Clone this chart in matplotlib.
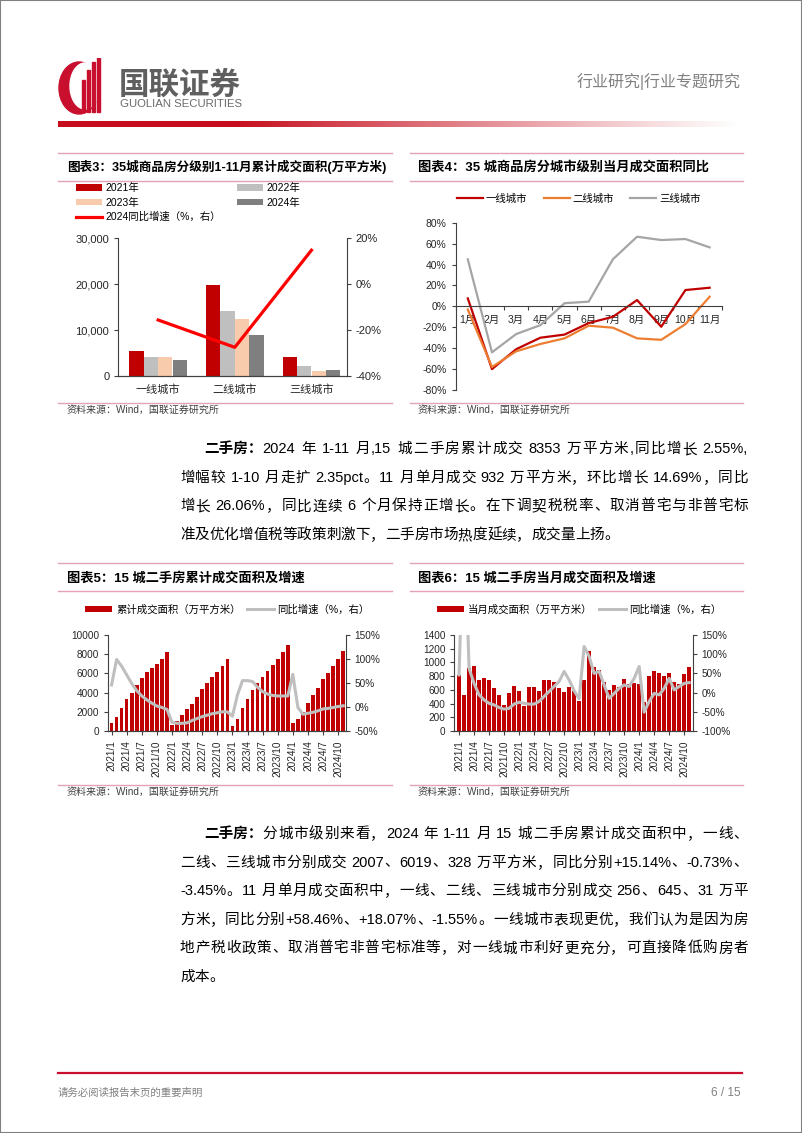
import re
import numpy as np
import matplotlib
matplotlib.use('Agg')
import matplotlib.pyplot as plt
from matplotlib.patches import Rectangle, Ellipse
from matplotlib.lines import Line2D
from matplotlib.ticker import FuncFormatter, MultipleLocator

plt.rcParams['font.family'] = ['Liberation Sans', 'Noto Sans CJK SC', 'DejaVu Sans']
plt.rcParams['axes.unicode_minus'] = False

W, H = 802, 1133

# ---- chart 3: 35 cities, cumulative Jan-Nov area by tier
tiers = ['一线城市', '二线城市', '三线城市']
years = ['2021年', '2022年', '2023年', '2024年']
area_2021 = [5400, 19900, 4200]
area_2022 = [4050, 14200, 2150]
area_2023 = [4200, 12400, 1100]
area_2024 = [3550, 9000, 1300]
yoy_2024 = [-15.6, -27.5, 14.8]

# ---- chart 4: monthly yoy by tier
months = ['1月', '2月', '3月', '4月', '5月', '6月', '7月', '8月', '9月', '10月', '11月']
tier1_yoy = [7.6, -60, -41, -30, -27, -16, -10, 6, -19.5, 15.6, 17.8]
tier2_yoy = [-3, -58, -43, -36, -30.6, -18.5, -20.4, -30.6, -32, -17, 9.2]
tier3_yoy = [45, -44, -26.5, -18, 3, 4.5, 45, 66.6, 63.4, 64.4, 56.4]

# ---- chart 5 / 6: 15 cities second-hand homes, 2021/1 - 2024/11
dates = ['2021/1', '2021/2', '2021/3', '2021/4', '2021/5', '2021/6', '2021/7', '2021/8',
         '2021/9', '2021/10', '2021/11', '2021/12',
         '2022/1', '2022/2', '2022/3', '2022/4', '2022/5', '2022/6', '2022/7', '2022/8',
         '2022/9', '2022/10', '2022/11', '2022/12',
         '2023/1', '2023/2', '2023/3', '2023/4', '2023/5', '2023/6', '2023/7', '2023/8',
         '2023/9', '2023/10', '2023/11', '2023/12',
         '2024/1', '2024/2', '2024/3', '2024/4', '2024/5', '2024/6', '2024/7', '2024/8',
         '2024/9', '2024/10', '2024/11']
cum_area = [870, 1420, 2350, 3300, 4000, 4750, 5500, 6100, 6600, 7000, 7500, 8200,
            620, 1040, 1630, 2250, 2800, 3550, 4350, 5000, 5600, 6100, 6750, 7450,
            520, 1250, 2420, 3350, 4250, 4950, 5600, 6250, 6850, 7500, 8250, 9000,
            830, 1250, 1950, 2900, 3700, 4500, 5380, 6060, 6740, 7500, 8353]
cum_yoy = [46, 99, 85, 67, 49, 34, 23, 15, 8, 2, -1, -5,
           -32, -34, -34, -33, -28, -24, -20, -17, -14, -12, -10, -10,
           -19, 25, 55, 55, 53, 41, 32, 27, 24, 23, 23, 23,
           68, -1, -15, -13, -11, -8, -4, -3, -1, 1, 2.55]
mon_area = [816, 525, 923, 955, 750, 768, 740, 620, 525, 379, 549, 661,
            583, 360, 640, 640, 583, 739, 739, 719, 632, 564, 646, 583,
            437, 743, 1160, 938, 889, 719, 598, 671, 646, 753, 680, 700,
            690, 420, 802, 880, 841, 807, 841, 719, 680, 826, 932]
mon_yoy = [46, 480, 63, 24, -6, -19, -28, -32, -39, -43, -41, -30,
           -25, -28, -30, -30, -23, -10, 3, 16, 29, 55, 33, 5,
           -16, 120, 94, 50, 55, 20, -15, -2, 11, 20, 16, 37,
           68, -51, -23, -2, -6, 11, 37, 7, 16, 24, 26.06]

para1 = ['2024 年 1-11 月,15 城二手房累计成交 8353 万平方米,同比增长 2.55%,',
         '增幅较 1-10 月走扩 2.35pct。11 月单月成交 932 万平方米，环比增长 14.69%，同比',
         '增长 26.06%，同比连续 6 个月保持正增长。在下调契税税率、取消普宅与非普宅标',
         '准及优化增值税等政策刺激下，二手房市场热度延续，成交量上扬。']
para2 = ['分城市级别来看，2024 年 1-11 月 15 城二手房累计成交面积中，一线、',
         '二线、三线城市分别成交 2007、6019、328 万平方米，同比分别+15.14%、-0.73%、',
         '-3.45%。11 月单月成交面积中，一线、二线、三线城市分别成交 256、645、31 万平',
         '方米，同比分别+58.46%、+18.07%、-1.55%。一线城市表现更优，我们认为是因为房',
         '地产税收政策、取消普宅非普宅标准等，对一线城市利好更充分，可直接降低购房者',
         '成本。']

RED = '#C00000'
PINK = '#E3A3B3'
AXC = '#404040'
TXT = '#262626'

fig = plt.figure(figsize=(W / 100, H / 100), dpi=100)
renderer = fig.canvas.get_renderer()


def fx(x):
    return x / W


def fy(y):
    return 1 - y / H


def add_ax(x0, y0, x1, y1):
    return fig.add_axes([x0 / W, 1 - y1 / H, (x1 - x0) / W, (y1 - y0) / H])


def hline(x0, x1, y, color, lw):
    fig.add_artist(Line2D([fx(x0), fx(x1)], [fy(y), fy(y)], color=color, lw=lw))


def style(ax, size=7.5):
    for s in ax.spines.values():
        s.set_color(AXC)
        s.set_linewidth(0.8)
    ax.spines['top'].set_visible(False)
    ax.tick_params(labelsize=size, colors=AXC, labelcolor=TXT, length=3, width=0.8)


pct = FuncFormatter(lambda v, p: f'{v:.0f}%')

# ---------------- header
lax = add_ax(56, 58, 104, 116)
lax.set_xlim(56, 104)
lax.set_ylim(116, 58)
lax.axis('off')
lax.add_patch(Ellipse((79, 88), 40, 52, color='#C8102E'))
lax.add_patch(Ellipse((85, 86), 30, 46, color='white'))
for bx, top in zip([82, 87, 92, 97], [80, 70, 62, 57]):
    lax.add_patch(Rectangle((bx, top), 2.6, 112 - top, color='#C8102E'))
fig.text(fx(119), fy(86), '国联证券', fontsize=22, color='#5F5F5F', weight='bold',
         va='center', ha='left')
fig.text(fx(120), fy(104), 'GUOLIAN SECURITIES', fontsize=8.2, color='#6A6A6A',
         va='center', ha='left')
fig.text(fx(741), fy(82), '行业研究|行业专题研究', fontsize=11.5, color='#808080',
         va='center', ha='right')

gax = add_ax(58, 121, 742, 127)
t = np.linspace(0, 1, 600)
grad = np.zeros((1, 600, 4))
grad[..., 0] = 0.78
grad[..., 1] = 0.06
grad[..., 2] = 0.12
grad[..., 3] = np.clip(1.4 * (1 - t) ** 1.1, 0, 1)
gax.imshow(grad, aspect='auto', extent=(0, 1, 0, 1))
gax.axis('off')

# ---------------- title boxes
for x0, x1 in [(58, 392), (410, 743)]:
    for yy in [153, 181, 403, 563, 591, 785]:
        hline(x0, x1, yy, PINK, 1)

tkw = dict(weight='bold', color='black', va='center', ha='left')
fig.text(fx(67), fy(167), '图表3：35城商品房分级别1-11月累计成交面积(万平方米)', fontsize=9.1, **tkw)
fig.text(fx(418), fy(167), '图表4：35 城商品房分城市级别当月成交面积同比', fontsize=9.5, **tkw)
fig.text(fx(67), fy(578), '图表5：15 城二手房累计成交面积及增速', fontsize=9.5, **tkw)
fig.text(fx(418), fy(578), '图表6：15 城二手房当月成交面积及增速', fontsize=9.5, **tkw)
skw = dict(fontsize=7.2, color='#404040', va='center', ha='left')
for sx, sy in [(67, 410), (418, 410), (67, 792), (418, 792)]:
    fig.text(fx(sx), fy(sy), '资料来源：Wind，国联证券研究所', **skw)

# ---------------- chart 3
ax3 = add_ax(118.3, 238.3, 346.7, 376)
x3 = np.arange(len(tiers))
bw = 0.185
bars = []
for k, (vals, c, lab) in enumerate(zip([area_2021, area_2022, area_2023, area_2024],
                                       [RED, '#BFBFBF', '#F8CBAD', '#7F7F7F'], years)):
    bars.append(ax3.bar(x3 + (k - 1.5) * bw * 1.02, vals, bw, color=c, label=lab))
ax3.set_xlim(-0.52, 2.46)
ax3.set_ylim(0, 30000)
ax3.yaxis.set_major_locator(MultipleLocator(10000))
ax3.yaxis.set_major_formatter(FuncFormatter(lambda v, p: f'{int(v):,}'))
ax3.set_xticks(x3, tiers)
style(ax3, 8)
ax3.tick_params(axis='x', length=0, pad=6)
ax3.spines['right'].set_visible(False)
ax3r = ax3.twinx()
ln3, = ax3r.plot(x3, yoy_2024, color='#FF0000', lw=2.3, label='2024同比增速（%，右）')
ax3r.set_ylim(-40, 20)
ax3r.yaxis.set_major_locator(MultipleLocator(20))
ax3r.yaxis.set_major_formatter(pct)
style(ax3r, 8)
ax3r.spines['left'].set_visible(False)
lkw = dict(frameon=False, fontsize=7.5, handlelength=2.5, handleheight=0.55,
           handletextpad=0.35, labelspacing=0.42, borderpad=0, borderaxespad=0,
           loc='upper left', bbox_transform=fig.transFigure)
leg_a = ax3r.legend([bars[0], bars[2], ln3], [years[0], years[2], ln3.get_label()],
                    bbox_to_anchor=(fx(75.7), fy(183)), **lkw)
ax3r.add_artist(leg_a)
ax3r.legend([bars[1], bars[3]], [years[1], years[3]],
            bbox_to_anchor=(fx(236.7), fy(183)), **lkw)

# ---------------- chart 4
ax4 = add_ax(455.7, 222.7, 721.7, 390)
x4 = np.arange(len(months))
ax4.plot(x4, tier1_yoy, color=RED, lw=1.6, label=tiers[0])
ax4.plot(x4, tier2_yoy, color='#ED7D31', lw=1.6, label=tiers[1])
ax4.plot(x4, tier3_yoy, color='#A5A5A5', lw=1.6, label=tiers[2])
ax4.set_xlim(-0.5, len(months) - 0.5)
ax4.set_ylim(-80, 80)
ax4.yaxis.set_major_locator(MultipleLocator(20))
ax4.yaxis.set_major_formatter(pct)
style(ax4, 7.5)
ax4.spines['right'].set_visible(False)
ax4.spines['bottom'].set_position(('data', 0))
ax4.set_xticks(x4, months)
ax4.set_xticks(np.arange(-0.5, len(months), 1), minor=True)
ax4.tick_params(axis='x', which='major', length=0, pad=6)
ax4.tick_params(axis='x', which='minor', length=3, width=0.8, colors=AXC)
ax4.legend(loc='center left', bbox_to_anchor=(fx(456.7), fy(198.3)),
           bbox_transform=fig.transFigure, ncol=3, frameon=False, fontsize=7.5,
           handlelength=2.5, handletextpad=0.3, columnspacing=1.55,
           borderpad=0, borderaxespad=0)

# ---------------- chart 5 / 6
idx = np.arange(len(dates))


def combo(box, area, yoy, ylim, ystep, rlim, xlim, bar_w, bar_label, leg_x, colsp):
    ax = add_ax(*box)
    b = ax.bar(idx, area, bar_w, color=RED, label=bar_label)
    ax.set_xlim(*xlim)
    ax.set_ylim(*ylim)
    ax.yaxis.set_major_locator(MultipleLocator(ystep))
    ax.set_xticks(idx[::3], dates[::3], rotation=90)
    style(ax, 7.2)
    ax.spines['right'].set_visible(False)
    axr = ax.twinx()
    ln, = axr.plot(idx, yoy, color='#BFBFBF', lw=2.2, label='同比增速（%，右）')
    axr.set_ylim(*rlim)
    axr.yaxis.set_major_locator(MultipleLocator(50))
    axr.yaxis.set_major_formatter(pct)
    style(axr, 7.2)
    axr.spines['left'].set_visible(False)
    axr.legend([b, ln], [bar_label, ln.get_label()], loc='center left',
               bbox_to_anchor=(fx(leg_x), fy(609.5)), bbox_transform=fig.transFigure,
               ncol=2, frameon=False, fontsize=7.5, handlelength=2.6, handleheight=0.65,
               handletextpad=0.38, columnspacing=colsp, borderpad=0, borderaxespad=0)
    return ax, axr


combo((108.3, 635, 345.7, 731), cum_area, cum_yoy, (0, 10000), 2000, (-50, 150),
      (-0.65, 46.5), 0.72, '累计成交面积（万平方米）', 85, 0.58)
combo((454.3, 635, 692.7, 731), mon_area, mon_yoy, (0, 1400), 200, (-100, 150),
      (-0.95, 46.7), 0.8, '当月成交面积（万平方米）', 437, 0.58)

# ---------------- body text (justified to the right margin)
pkw = dict(fontsize=10.5, color='black', va='center', ha='left')
RIGHT = 748


def text_line(x0, y, s, justify):
    toks = re.findall(r'[\x21-\x7e]+| |[^\x00-\x7f]', s)
    items = []
    for tk in toks:
        if tk == ' ':
            items.append((None, 3.5))
        else:
            a = fig.text(0, fy(y), tk, **pkw)
            items.append((a, a.get_window_extent(renderer).width))
    gap = 0
    if justify and len(items) > 1:
        gap = (RIGHT - x0 - sum(w for _, w in items)) / (len(items) - 1)
    x = x0
    for a, w in items:
        if a is not None:
            a.set_x(fx(x))
        x += w + gap


def paragraph(lines, y0, step):
    head = fig.text(fx(204), fy(y0), '二手房：', weight='bold', **pkw)
    wpx = head.get_window_extent(renderer).width
    for i, line in enumerate(lines):
        xs = 204 + wpx if i == 0 else 180
        text_line(xs, y0 + i * step, line, i < len(lines) - 1)


paragraph(para1, 449, 28.7)
paragraph(para2, 834, 28.6)

# ---------------- footer
hline(58, 742, 1073, '#C8102E', 1.6)
fig.text(fx(58), fy(1093), '请务必阅读报告末页的重要声明', fontsize=7.5, color='#808080',
         va='center', ha='left')
fig.text(fx(741), fy(1093), '6 / 15', fontsize=8.5, color='#808080', va='center', ha='right')
fig.add_artist(Rectangle((0, 0), 1, 1, transform=fig.transFigure, fill=False,
                         edgecolor='#808080', lw=1.5))

fig.savefig('out.png', dpi=100)
